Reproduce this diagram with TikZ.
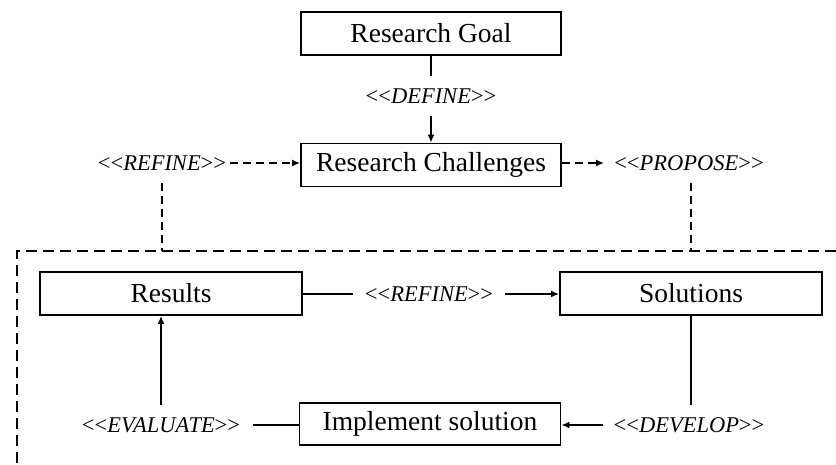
\documentclass[tikz,border=0pt]{standalone}
\usepackage{fontspec}
\setmainfont{Liberation Serif}
\usetikzlibrary{arrows.meta}
% stereotype text: upright guillemet-like brackets around an italic name
\newcommand{\stereo}[1]{\textup{<{}<}#1\textup{>{}>}}
\begin{document}
\begin{tikzpicture}[x=1pt,y=-1pt,
  box/.style={draw,line width=1.8pt,minimum width=260pt,minimum height=43pt,
    inner sep=0pt,font=\fontsize{27.5}{30}\selectfont},
  lbl/.style={inner xsep=10pt,inner ysep=0pt,minimum height=40pt,
    font=\fontsize{22.5}{25}\selectfont\itshape},
  conn/.style={line width=1.6pt},
  dsh/.style={line width=1.6pt,dash pattern=on 8pt off 5pt},
  frame/.style={line width=1.8pt,dash pattern=on 11pt off 6pt},
  tip/.style={-{Latex[length=8pt,width=7pt]}}]
\path[use as bounding box,clip] (0,0) rectangle (836,464);

% main boxes
\node[box] (goal) at (431,33.5) {Research Goal};
\node[box] (chal) at (431,165) {Research Challenges};
\node[box,minimum width=262pt] (res) at (171,293.5) {Results};
\node[box,minimum width=262pt] (sol) at (691,293.5) {Solutions};
\node[box,minimum width=261pt,minimum height=42pt] (impl) at (430,424) {Implement solution};

% stereotype labels
\node[lbl] (define) at (431,96) {\stereo{DEFINE}};
\node[lbl,inner xsep=4pt] (refT) at (162,163) {\stereo{REFINE}};
\node[lbl] (prop) at (689,163) {\stereo{PROPOSE}};
\node[lbl,inner xsep=12pt] (refM) at (429,294) {\stereo{REFINE}};
\node[lbl,inner xsep=13pt] (eval) at (161,425) {\stereo{EVALUATE}};
\node[lbl] (dev) at (689,425) {\stereo{DEVELOP}};

% dashed frame around the solution cycle
\coordinate (fbl) at (17,480);
\coordinate (ftl) at (17,251);
\coordinate (ftr) at (850,251);
\coordinate (f1) at (162,251);
\coordinate (f2) at (691,251);
\draw[frame] (fbl) -- (ftl) -- (ftr);

% top connectors
\draw[conn] (goal.south -| define) -- (define);
\draw[conn,tip] (define) -- (define |- chal.north);
\draw[dsh,tip] (refT.east) -- (refT.east -| chal.west);
\draw[dsh,tip] (prop.west -| chal.east) -- (prop.west);
\draw[dsh] (refT) -- (f1);
\draw[dsh] (prop.south -| f2) -- (f2);

% cycle connectors
\draw[conn] (res.east |- refM) -- (refM.west);
\draw[conn,tip] (refM.east) -- (refM.east -| sol.west);
\draw[conn] (sol.south) -- (sol.south |- dev.north);
\draw[conn,tip] (dev.west) -- (dev.west -| impl.east);
\draw[conn] (impl.west |- eval) -- (eval.east);
\draw[conn,tip] (eval) -- (eval |- res.south);
\end{tikzpicture}
\end{document}
